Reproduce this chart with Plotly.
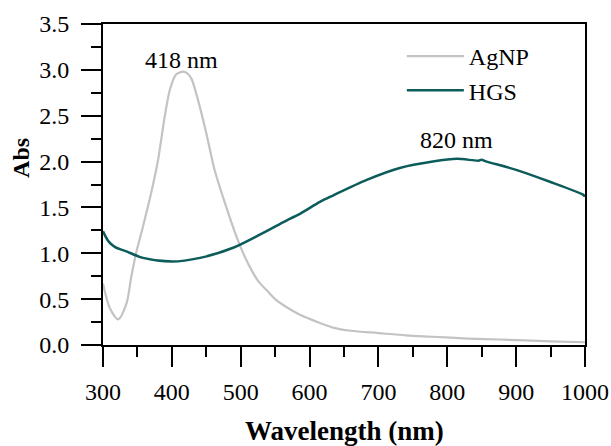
import plotly.graph_objects as go

# AgNP spectrum (wavelength nm, absorbance)
agnp_wl = [300, 310, 322, 334, 341, 348, 358, 370, 380, 389, 397, 406, 411, 416, 421, 428,
           438, 450, 462, 477, 494, 508, 526, 540, 550, 565, 586, 600, 615, 634, 660, 700,
           740, 779, 830, 876, 950, 1000]
agnp_abs = [0.67, 0.40, 0.28, 0.45, 0.74, 1.00, 1.29, 1.66, 2.02, 2.46, 2.78, 2.95, 2.97, 2.98, 2.97, 2.91,
            2.67, 2.31, 1.91, 1.55, 1.18, 0.93, 0.69, 0.58, 0.50, 0.42, 0.33, 0.285, 0.24, 0.19, 0.155, 0.13,
            0.105, 0.09, 0.07, 0.06, 0.04, 0.03]

# HGS spectrum
hgs_wl = [300, 308, 317, 334, 358, 400, 441, 489, 527, 567, 586, 615, 634, 683, 731, 779,
          814, 845, 850, 855, 900, 949, 997, 1000]
hgs_abs = [1.24, 1.13, 1.07, 1.02, 0.95, 0.91, 0.95, 1.06, 1.20, 1.36, 1.43, 1.56, 1.63, 1.80, 1.93, 2.00,
           2.03, 2.01, 2.02, 2.005, 1.91, 1.78, 1.64, 1.62]

x_ticks = [300, 400, 500, 600, 700, 800, 900, 1000]
y_ticks = [0.0, 0.5, 1.0, 1.5, 2.0, 2.5, 3.0, 3.5]
y_tick_text = ["0.0", "0.5", "1.0", "1.5", "2.0", "2.5", "3.0", "3.5"]

FONT = "Liberation Serif, Times New Roman, serif"

fig = go.Figure()
fig.add_trace(go.Scatter(x=agnp_wl, y=agnp_abs, mode="lines", name="AgNP",
                         line=dict(color="#c3c3c3", width=2.2, shape="spline", smoothing=0.8)))
fig.add_trace(go.Scatter(x=hgs_wl, y=hgs_abs, mode="lines", name="HGS",
                         line=dict(color="#0b5c5a", width=2.5, shape="spline", smoothing=0.8)))

axis_common = dict(showline=True, linecolor="black", linewidth=2, mirror=True,
                   ticks="outside", ticklen=20, tickwidth=2, tickcolor="black",
                   showgrid=False, zeroline=False, automargin=False,
                   tickfont=dict(family=FONT, size=24, color="black"))

fig.update_xaxes(range=[300, 1000], tickvals=x_ticks, ticklabelstandoff=4,
                 minor=dict(ticks="outside", ticklen=10, tickwidth=2, tickcolor="black", dtick=50),
                 **axis_common)
fig.update_yaxes(range=[0, 3.5], tickvals=y_ticks, ticktext=y_tick_text, ticklabelstandoff=7,
                 minor=dict(ticks="outside", ticklen=10, tickwidth=2, tickcolor="black", dtick=0.25),
                 **axis_common)

fig.add_annotation(x=414, y=3.11, text="418 nm", showarrow=False, xanchor="center", yanchor="middle",
                   font=dict(family=FONT, size=24, color="black"))
fig.add_annotation(x=814, y=2.24, text="820 nm", showarrow=False, xanchor="center", yanchor="middle",
                   font=dict(family=FONT, size=24, color="black"))
fig.add_annotation(x=0.5, y=-0.268, xref="paper", yref="paper", text="<b>Wavelength (nm)</b>",
                   showarrow=False, xanchor="center", yanchor="middle",
                   font=dict(family=FONT, size=27, color="black"))
fig.add_annotation(x=-0.170, y=0.583, xref="paper", yref="paper", text="<b>Abs</b>",
                   textangle=-90, showarrow=False, xanchor="center", yanchor="middle",
                   font=dict(family=FONT, size=24, color="black"))

fig.update_layout(
    width=611, height=446,
    margin=dict(l=103, r=26, t=24, b=101),
    paper_bgcolor="white", plot_bgcolor="white",
    showlegend=True,
    legend=dict(x=0.62, y=0.969, xanchor="left", yanchor="top", itemwidth=57,
                bgcolor="rgba(0,0,0,0)", font=dict(family=FONT, size=24, color="black"),
                tracegroupgap=0),
)

fig.write_html("out.html", config={"displayModeBar": False},
               post_script="document.body.style.margin='0';document.body.style.overflow='hidden';")
